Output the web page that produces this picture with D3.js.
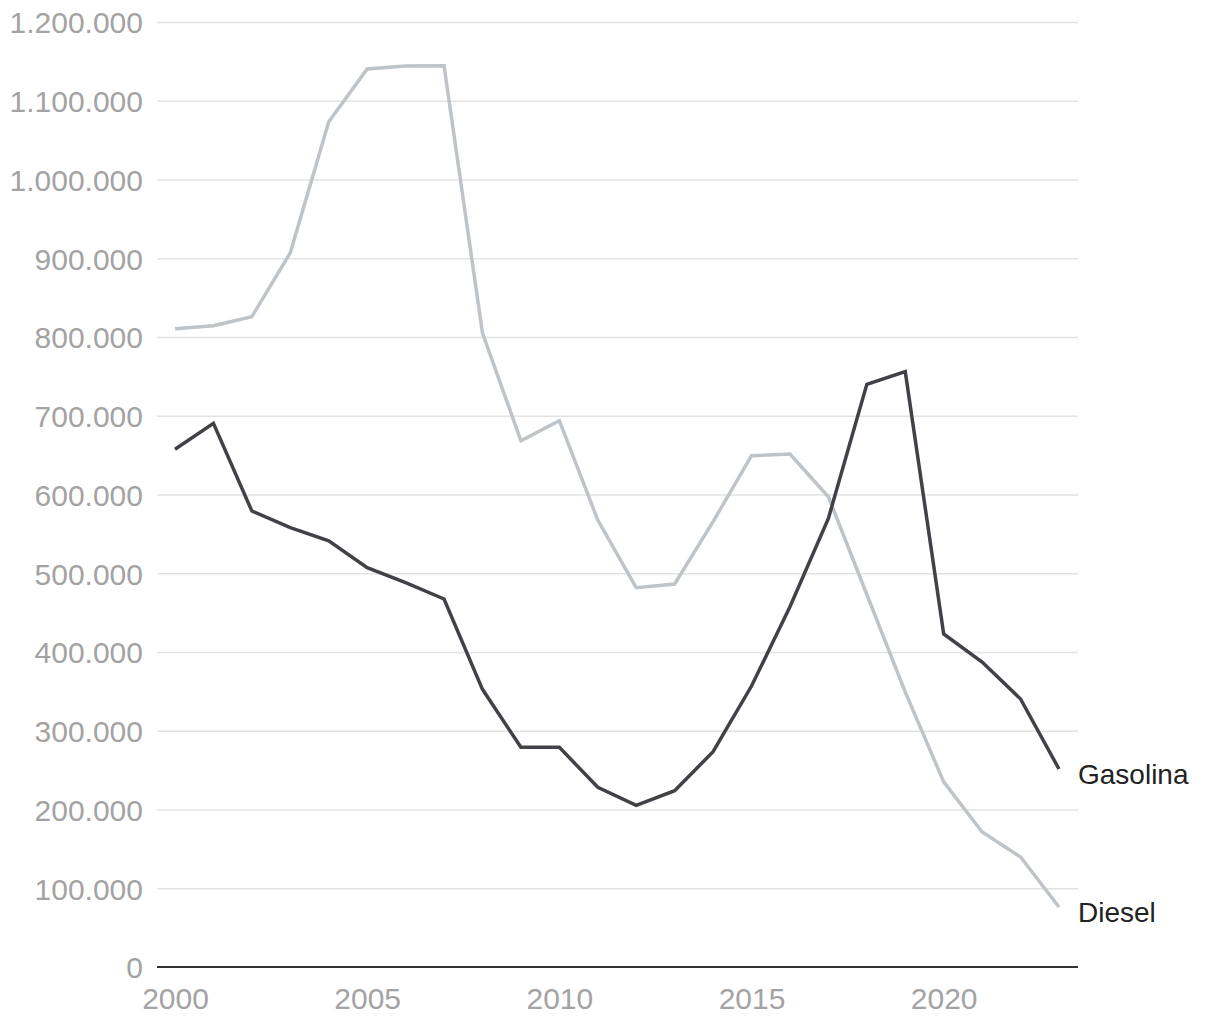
<!DOCTYPE html>
<html>
<head>
<meta charset="utf-8">
<script src="https://cdn.jsdelivr.net/npm/d3@7"></script>
<style>
  html, body { margin: 0; padding: 0; background: #fff; }
  svg { display: block; }
  text { font-family: "Liberation Sans", Arial, sans-serif; }
</style>
</head>
<body>
<svg id="chart" width="1220" height="1020"></svg>
<script>
const years = [2000,2001,2002,2003,2004,2005,2006,2007,2008,2009,2010,2011,2012,2013,2014,2015,2016,2017,2018,2019,2020,2021,2022,2023];
const diesel = [810500,814300,825800,907000,1073400,1140300,1144100,1144500,805000,668300,693700,567600,481700,486300,565500,649300,651400,597200,473000,349000,235000,171400,139700,76200];
const gasolina = [657400,690400,579000,557900,541300,507000,488000,467300,352600,279000,279000,228200,205300,223900,273400,356800,457500,569700,739900,756000,422900,387300,340300,251400];
const yTicks = [0,100000,200000,300000,400000,500000,600000,700000,800000,900000,1000000,1100000,1200000];
const xTicks = [2000,2005,2010,2015,2020];
const seriesNames = ["Gasolina","Diesel"];
const seriesColors = ["#404247","#bfc4c8"];

(function () {
const svg = d3.select("#chart");
const mLeft = 157, mRight = 1078, mTop = 22, mBottom = 967;

const x = d3.scaleLinear().domain([2000, 2023]).range([175, 1059]);
const y = d3.scaleLinear().domain([0, 1200000]).range([mBottom, mTop]);

const loc = d3.formatLocale({decimal: ",", thousands: ".", grouping: [3], currency: ["", "€"]});
const fmt = loc.format(",d");

const yAxis = svg.append("g")
  .attr("transform", `translate(${mLeft},0)`)
  .call(d3.axisLeft(y).tickValues(yTicks).tickFormat(fmt).tickSize(-(mRight - mLeft)).tickPadding(14));
yAxis.select(".domain").remove();
yAxis.selectAll(".tick line").attr("stroke", "#e3e3e3").attr("stroke-width", 1.5);
yAxis.selectAll(".tick text")
  .attr("fill", "#a3a3a3")
  .attr("font-size", 30)
  .attr("dy", "0.36em");
yAxis.selectAll(".tick").filter(d => d === 0).select("line").remove();

const xAxis = svg.append("g")
  .attr("transform", `translate(0,${mBottom})`)
  .call(d3.axisBottom(x).tickValues(xTicks).tickFormat(d3.format("d")).tickSize(0).tickPadding(21));
xAxis.select(".domain").remove();
xAxis.selectAll(".tick text").attr("fill", "#a3a3a3").attr("font-size", 30);

svg.append("line")
  .attr("x1", mLeft).attr("x2", mRight)
  .attr("y1", y(0)).attr("y2", y(0))
  .attr("stroke", "#333").attr("stroke-width", 2);

const line = d3.line().x((d, i) => x(years[i])).y(d => y(d));
const data = [gasolina, diesel];

[1, 0].forEach(k => {
  svg.append("path")
    .datum(data[k])
    .attr("fill", "none")
    .attr("stroke", seriesColors[k])
    .attr("stroke-width", 3.5)
    .attr("stroke-linejoin", "miter")
    .attr("d", line);
});

data.forEach((arr, k) => {
  const last = arr.length - 1;
  svg.append("text")
    .attr("x", x(years[last]) + 19)
    .attr("y", y(arr[last]))
    .attr("dy", "0.55em")
    .attr("fill", "#222")
    .attr("font-size", 28)
    .text(seriesNames[k]);
});
})();
</script>
</body>
</html>
